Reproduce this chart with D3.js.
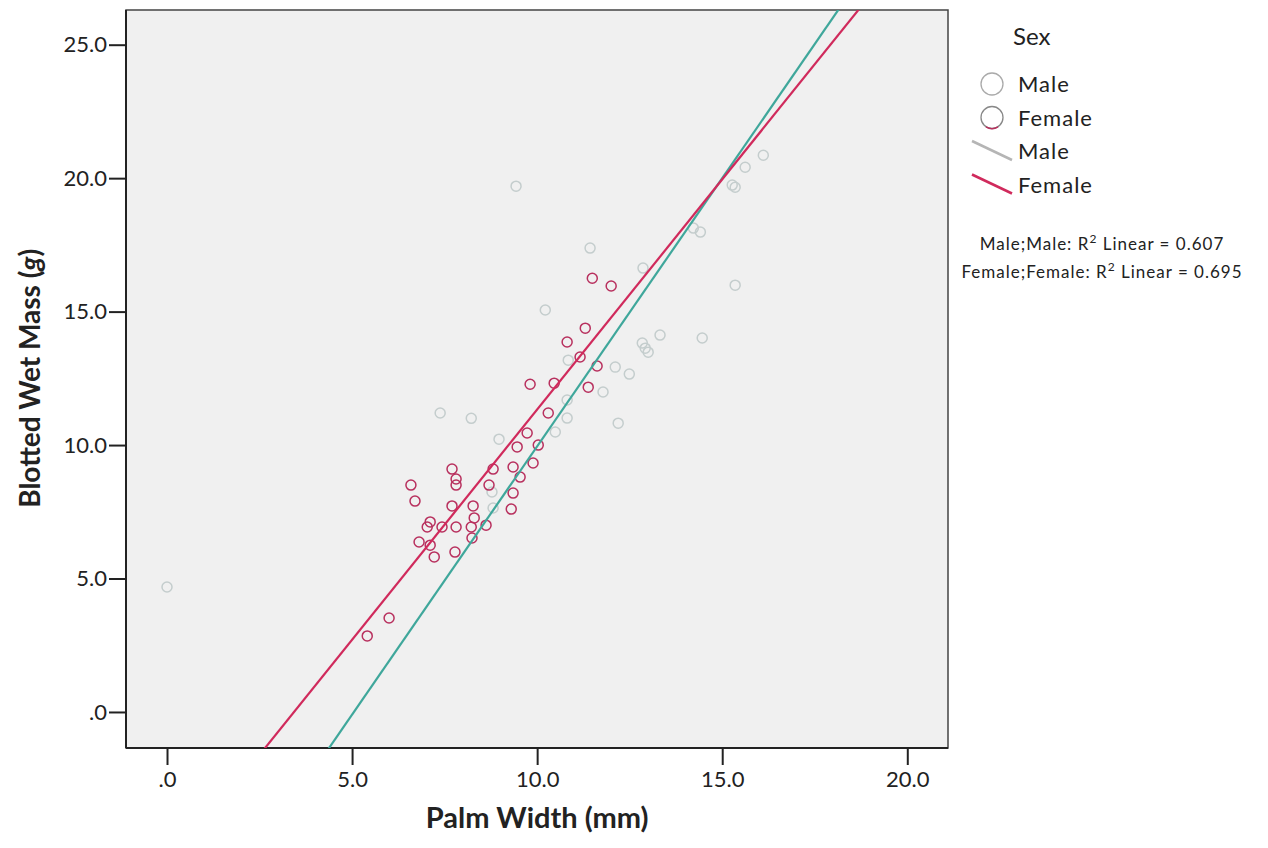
<!DOCTYPE html>
<html>
<head>
<meta charset="utf-8">
<script src="https://cdn.jsdelivr.net/npm/d3@7"></script>
<style>
  body { margin: 0; background: #fff; }
  text { font-family: Lato, "Open Sans", sans-serif; fill: #222; }
</style>
</head>
<body>
<svg width="1268" height="848"></svg>
<script>
// Palm width (mm) vs blotted wet mass (g), by sex
const maleWidth = [0.0, 7.38, 8.22, 8.97, 8.78, 8.81, 9.43, 10.22, 10.49, 10.81, 10.81, 10.84, 11.43,
  11.78, 12.11, 12.19, 12.49, 12.92, 12.84, 13.0, 13.32, 12.86, 14.46, 14.41, 14.22, 15.27, 15.35,
  15.35, 15.62, 16.11];
const maleMass = [4.68, 11.2, 11.0, 10.22, 8.24, 7.64, 19.7, 15.06, 10.49, 11.69, 11.01, 13.18, 17.38,
  11.99, 12.92, 10.82, 12.66, 13.63, 13.82, 13.48, 14.12, 16.63, 14.01, 17.98, 18.13, 19.74, 19.66,
  15.99, 20.41, 20.86];

const femaleWidth = [5.41, 6.0, 6.59, 6.7, 6.81, 7.03, 7.11, 7.11, 7.22, 7.43, 7.7, 7.81, 7.81, 7.7,
  7.81, 7.78, 8.22, 8.24, 8.27, 8.3, 8.62, 8.7, 8.81, 9.3, 9.35, 9.35, 9.54, 9.46, 9.89, 9.73, 10.03,
  9.81, 10.3, 10.46, 10.81, 11.3, 11.16, 11.62, 11.38, 11.49, 12.0];
const femaleMass = [2.85, 3.52, 8.5, 7.9, 6.37, 6.93, 7.12, 6.25, 5.81, 6.93, 9.1, 8.73, 8.5, 7.72,
  6.93, 5.99, 6.93, 6.52, 7.72, 7.27, 7.0, 8.5, 9.1, 7.6, 8.2, 9.18, 8.8, 9.93, 9.33, 10.45, 10.0,
  12.28, 11.2, 12.32, 13.86, 14.38, 13.3, 12.96, 12.17, 16.25, 15.96];

// fit lines: [intercept, slope]
const maleFit = [-10.15, 2.01];
const femaleFit = [-5.92, 1.725];

const xTicks = [0, 5, 10, 15, 20];
const yTicks = [0, 5, 10, 15, 20, 25];
const r2Labels = ['Male;Male: R', 'Female;Female: R'];
const r2Values = ['0.607', '0.695'];

const colors = {
  maleDot: '#c4cdcd',
  femaleDot: '#b8305e',
  maleLine: '#3fa79b',
  femaleLine: '#d02a5c',
  legendMaleLine: '#b5b5b5',
};

const margin = {top: 10, right: 320, bottom: 100, left: 126};
const svg = d3.select('svg');
const width = 948 - margin.left;
const height = 748 - margin.top;

const x = d3.scaleLinear().domain([-1.108, 21.1]).range([0, width]);
const y = d3.scaleLinear().domain([-1.35, 26.3]).range([height, 0]);

const g = svg.append('g')
    .attr('transform', `translate(${margin.left}, ${margin.top})`);

g.append('rect')
    .attr('width', width)
    .attr('height', height)
    .attr('fill', '#f0f0f0');

g.append('clipPath')
    .attr('id', 'plot-clip')
  .append('rect')
    .attr('width', width)
    .attr('height', height);

const fmt = (d) => d === 0 ? '.0' : d3.format('.1f')(d);

// Axes
const xAxis = d3.axisBottom(x).tickValues(xTicks).tickFormat(fmt).tickSize(17).tickSizeOuter(0).tickPadding(6);
const yAxis = d3.axisLeft(y).tickValues(yTicks).tickFormat(fmt).tickSize(17).tickSizeOuter(0).tickPadding(2);

const gx = g.append('g')
    .attr('transform', `translate(0, ${height})`)
    .call(xAxis);
const gy = g.append('g').call(yAxis);

[gx, gy].forEach((ax) => {
  ax.select('.domain').remove();
  ax.selectAll('line').attr('stroke', '#222').attr('stroke-width', 2);
  ax.selectAll('text')
      .style('font-size', '22px')
      .attr('fill', '#333');
});

// plot frame
g.append('rect')
    .attr('width', width)
    .attr('height', height)
    .attr('fill', 'none')
    .attr('stroke', '#444')
    .attr('stroke-width', 1.5);
g.append('line').attr('x1', 0).attr('x2', 0).attr('y1', 0).attr('y2', height)
    .attr('stroke', '#222').attr('stroke-width', 2);
g.append('line').attr('x1', 0).attr('x2', width).attr('y1', height).attr('y2', height)
    .attr('stroke', '#222').attr('stroke-width', 2);

// Points
const plot = g.append('g').attr('clip-path', 'url(#plot-clip)');

plot.selectAll('.male')
    .data(d3.zip(maleWidth, maleMass))
  .enter().append('circle')
    .attr('class', 'male')
    .attr('cx', (d) => x(d[0]))
    .attr('cy', (d) => y(d[1]))
    .attr('r', 5)
    .attr('fill', 'none')
    .attr('stroke', colors.maleDot)
    .attr('stroke-width', 1.5);

plot.selectAll('.female')
    .data(d3.zip(femaleWidth, femaleMass))
  .enter().append('circle')
    .attr('class', 'female')
    .attr('cx', (d) => x(d[0]))
    .attr('cy', (d) => y(d[1]))
    .attr('r', 5)
    .attr('fill', 'none')
    .attr('stroke', colors.femaleDot)
    .attr('stroke-width', 1.5);

// Fit lines across the whole axis range
const fitLine = (fit) => {
  const [a, b] = fit;
  const xs = [x.domain()[0], x.domain()[1]];
  return xs.map((v) => [x(v), y(a + b * v)]);
};

plot.append('path')
    .attr('d', d3.line()(fitLine(maleFit)))
    .attr('stroke', colors.maleLine)
    .attr('stroke-width', 2.2)
    .attr('fill', 'none');

plot.append('path')
    .attr('d', d3.line()(fitLine(femaleFit)))
    .attr('stroke', colors.femaleLine)
    .attr('stroke-width', 2.2)
    .attr('fill', 'none');

// Axis titles
svg.append('text')
    .attr('x', margin.left + x(10))
    .attr('y', 828)
    .attr('text-anchor', 'middle')
    .style('font-size', '29px')
    .style('font-weight', 'bold')
    .text('Palm Width (mm)');

const yTitle = svg.append('text')
    .attr('transform', `translate(40, ${margin.top + y(12.5)}) rotate(-90)`)
    .attr('text-anchor', 'middle')
    .style('font-size', '28px')
    .style('font-weight', 'bold');
yTitle.append('tspan').text('Blotted Wet Mass (');
yTitle.append('tspan').style('font-style', 'italic').text('g');
yTitle.append('tspan').text(')');

// Legend
const legend = svg.append('g');
legend.append('text')
    .attr('x', 1013)
    .attr('y', 45)
    .style('font-size', '24px')
    .text('Sex');

const legendItems = [
  {type: 'dot', label: 'Male', color: colors.maleDot},
  {type: 'dot', label: 'Female', color: colors.femaleDot},
  {type: 'line', label: 'Male', color: colors.legendMaleLine},
  {type: 'line', label: 'Female', color: colors.femaleLine},
];

legendItems.forEach((item, i) => {
  const base = 92 + i * 33.5;
  const cy = base - 8;
  if (item.type === 'dot') {
    legend.append('circle')
        .attr('cx', 992)
        .attr('cy', cy)
        .attr('r', 11)
        .attr('fill', 'none')
        .attr('stroke', i === 1 ? '#888' : '#aaa')
        .attr('stroke-width', 1.3);
    if (i === 1) {
      legend.append('path')
          .attr('d', `M986,${cy + 9.3} A11,11 0 0 0 998,${cy + 9.3}`)
          .attr('fill', 'none')
          .attr('stroke', item.color)
          .attr('stroke-width', 1.6);
    }
  } else {
    legend.append('line')
        .attr('x1', 972).attr('y1', cy - 10)
        .attr('x2', 1012).attr('y2', cy + 9)
        .attr('stroke', item.color)
        .attr('stroke-width', 2.5);
  }
  legend.append('text')
      .attr('x', 1018)
      .attr('y', base)
      .style('font-size', '22px')
      .style('letter-spacing', '1px')
      .text(item.label);
});

r2Labels.forEach((lab, i) => {
  const t = legend.append('text')
      .attr('x', 1102)
      .attr('y', 250 + i * 28)
      .attr('text-anchor', 'middle')
      .style('font-size', '17px')
      .style('letter-spacing', '1px');
  t.append('tspan').text(lab);
  t.append('tspan').attr('dy', -7).style('font-size', '12px').text('2');
  t.append('tspan').attr('dy', 7).text(' Linear = ' + r2Values[i]);
});
</script>
</body>
</html>
